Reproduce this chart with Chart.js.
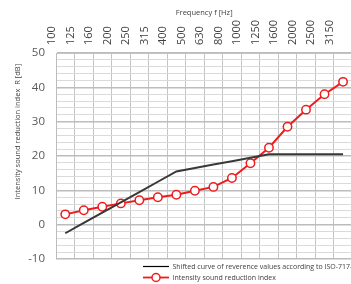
<!DOCTYPE html>
<html>
<head>
<meta charset="utf-8">
<script src="https://cdn.jsdelivr.net/npm/chart.js@4/dist/chart.umd.min.js"></script>
<style>
  html, body { margin: 0; padding: 0; background: #fff; overflow: hidden; }
  #wrap { width: 351px; height: 284px; overflow: hidden; }
  #box { width: 358px; height: 284px; }
</style>
</head>
<body>
<div id="wrap"><div id="box"><canvas id="chart"></canvas></div></div>
<script>
// frequency bands (Hz)
const frequencies = ['100', '125', '160', '200', '250', '315', '400', '500', '630', '800', '1000', '1250', '1600', '2000', '2500', '3150'];

// ISO 717-1 reference curve, shifted
const shiftedReference = [-2.5, 0.5, 3.5, 6.5, 9.5, 12.5, 15.5, 16.5, 17.5, 18.5, 19.5, 20.5, 20.5, 20.5, 20.5, 20.5];

// measured intensity sound reduction index R
const reductionIndex = [3.0, 4.2, 5.2, 6.2, 7.1, 8.0, 8.7, 9.9, 11.0, 13.6, 17.9, 22.4, 28.5, 33.5, 38.0, 41.6];

const yMin = -10;
const yMax = 50;

const seriesNames = [
  'Shifted curve of reverence values according to ISO-717-1',
  'Intensity sound reduction index'
];

const font = "'Open Sans', 'Liberation Sans', sans-serif";
const legendPad = 4;

// legend marker: line with a hollow circle
function makeMarker(withCircle, color) {
  const c = document.createElement('canvas');
  c.width = 26;
  c.height = 11;
  const g = c.getContext('2d');
  g.strokeStyle = color;
  g.lineWidth = withCircle ? 1.8 : 1.2;
  g.beginPath();
  g.moveTo(0, 5.5);
  g.lineTo(26, 5.5);
  g.stroke();
  if (withCircle) {
    g.fillStyle = '#fff';
    g.lineWidth = 1.5;
    g.beginPath();
    g.arc(13, 5.5, 4, 0, Math.PI * 2);
    g.fill();
    g.stroke();
  }
  return c;
}

const markers = [makeMarker(false, '#000'), makeMarker(true, '#ee1c1c')];

// legend: a bit less height, rows start under the middle of the plot
const legendShift = {
  id: 'legendShift',
  beforeLayout(chart) {
    const l = chart.legend;
    if (l && !l._tight) {
      const fit = l.fit.bind(l);
      l.fit = function () {
        fit();
        this.height -= 7;
      };
      l._tight = true;
    }
  },
  afterLayout(chart) {
    const l = chart.legend;
    const dx = 143 - legendPad - l.left;
    l.left += dx;
    l.right += dx;
  }
};

new Chart(document.getElementById('chart'), {
  type: 'line',
  data: {
    labels: frequencies,
    datasets: [{
      label: seriesNames[0],
      data: shiftedReference,
      borderColor: '#383838',
      borderWidth: 2,
      pointRadius: 0,
      tension: 0
    }, {
      label: seriesNames[1],
      data: reductionIndex,
      borderColor: '#ee1c1c',
      borderWidth: 2,
      pointRadius: 4.2,
      pointBorderWidth: 1.5,
      pointBackgroundColor: '#fff',
      pointBorderColor: '#ee1c1c',
      tension: 0
    }]
  },
  options: {
    responsive: true,
    maintainAspectRatio: false,
    animation: false,
    layout: { padding: { left: 0, right: 3, top: 0, bottom: 0 } },
    plugins: {
      legend: {
        position: 'bottom',
        align: 'start',
        labels: {
          usePointStyle: true,
          pointStyleWidth: 26,
          boxHeight: 7.5,
          padding: legendPad,
          color: '#404040',
          font: { family: font, size: 7 },
          generateLabels(chart) {
            return chart.data.datasets.map((ds, i) => ({
              text: ds.label,
              pointStyle: markers[i],
              fillStyle: 'transparent',
              strokeStyle: 'transparent',
              fontColor: '#404040',
              datasetIndex: i
            }));
          }
        }
      },
      tooltip: { enabled: false }
    },
    scales: {
      x: {
        position: 'top',
        offset: true,
        grid: {
          offset: true,
          color: '#c4c4c4',
          lineWidth: 1,
          drawTicks: false
        },
        border: { color: '#c4c4c4' },
        ticks: {
          maxRotation: 90,
          minRotation: 90,
          padding: 8,
          color: '#404040',
          font: { family: font, size: 11 }
        },
        title: {
          display: true,
          text: 'Frequency f [Hz]',
          color: '#404040',
          font: { family: font, size: 7.5 },
          padding: { top: 8, bottom: 4 }
        },
        afterFit(scale) { scale.height = 53; }
      },
      y: {
        min: yMin,
        max: yMax,
        grid: {
          color: ctx => (ctx.tick && ctx.tick.value % 10 === 0) ? '#bcbcbc' : '#dadada',
          lineWidth: ctx => (ctx.tick && ctx.tick.value % 10 === 0) ? 1.6 : 1,
          drawTicks: false
        },
        border: { color: '#bcbcbc' },
        ticks: {
          stepSize: 2,
          autoSkip: false,
          padding: 11,
          color: '#595959',
          font: { family: font, size: 11.5 },
          callback: v => (v % 10 === 0 ? v : '')
        },
        title: {
          display: true,
          text: ' '.repeat(25) + 'Intensity sound reduction index  R [dB]',
          color: '#404040',
          font: { family: font, size: 7.5 },
          padding: { top: 13, bottom: 0 }
        },
        afterFit(scale) {
          scale.width = 56;
          scale.paddingTop = 0;
          scale.paddingBottom = 0;
        }
      }
    }
  },
  plugins: [legendShift]
});
</script>
</body>
</html>
